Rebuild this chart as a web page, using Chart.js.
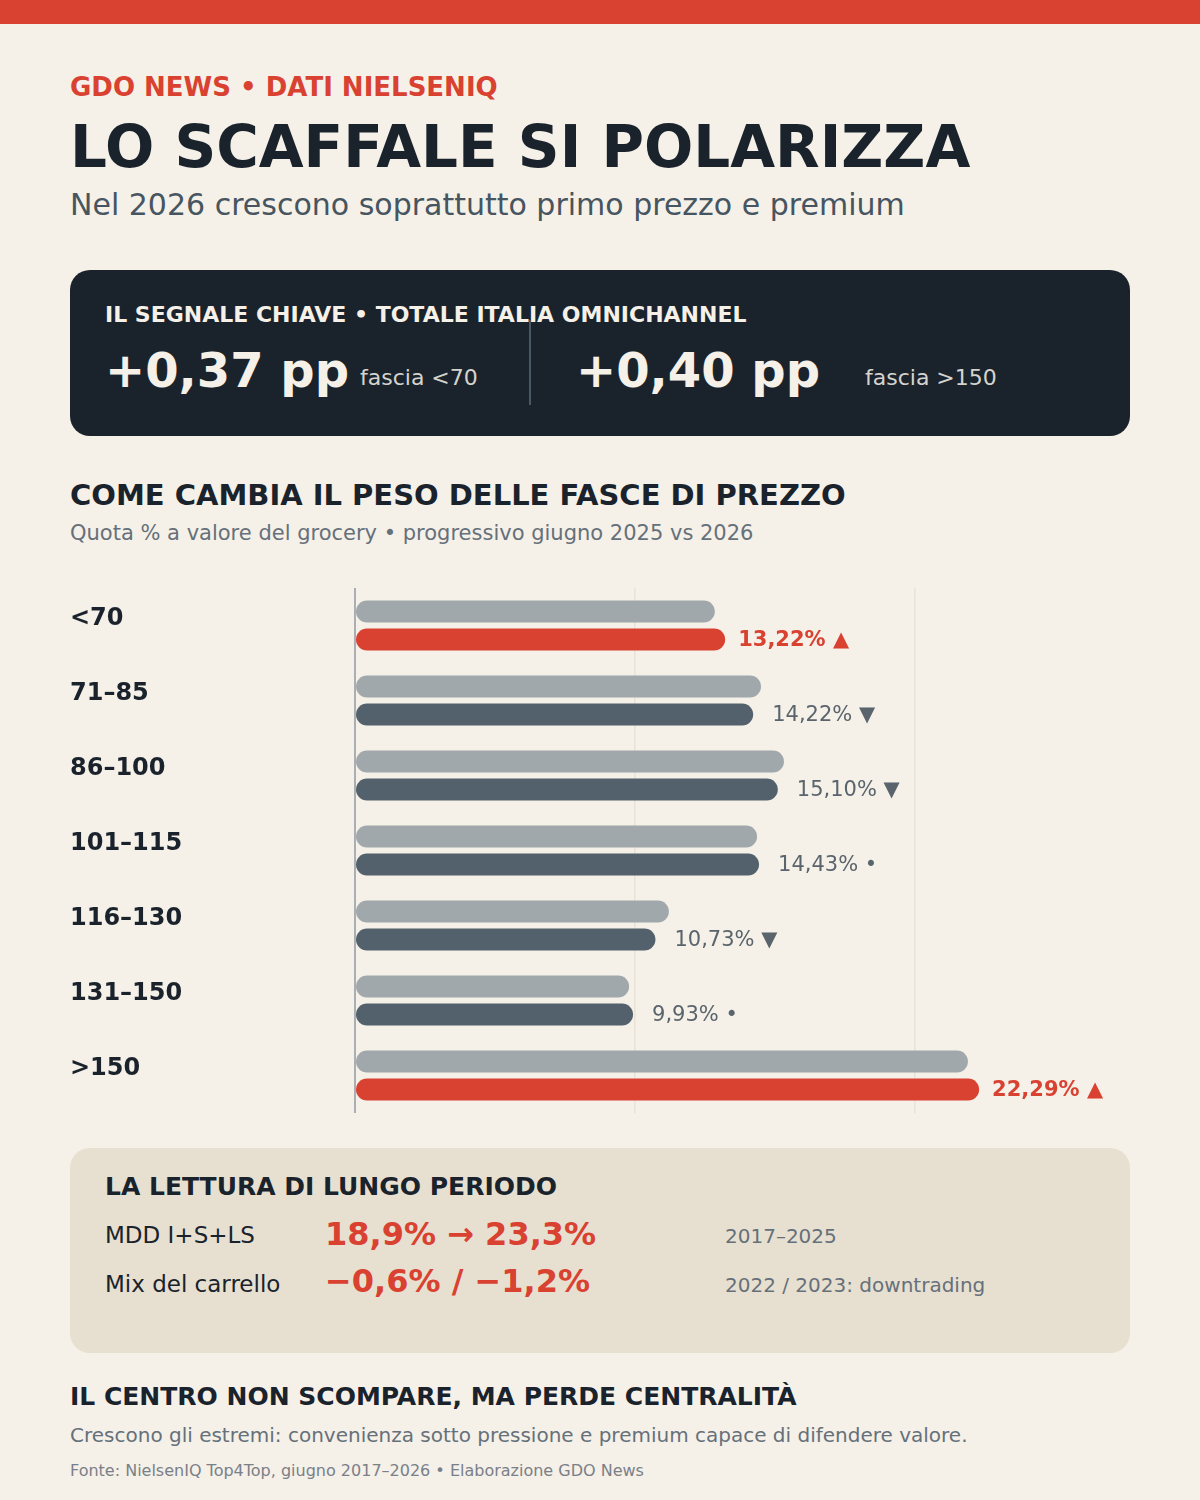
<!DOCTYPE html>
<html lang="it">
<head>
<meta charset="utf-8">
<title>Lo scaffale si polarizza</title>
<script src="https://cdn.jsdelivr.net/npm/chart.js@4.4.1/dist/chart.umd.min.js"></script>
<style>
  html, body { margin: 0; padding: 0; }
  body {
    width: 1200px; height: 1500px; position: relative; overflow: hidden;
    background: #F5F0E8; font-family: "DejaVu Sans", sans-serif; color: #1A232C;
  }
  .abs { position: absolute; line-height: 1; white-space: nowrap; }
  .topbar { position: absolute; left: 0; top: 0; width: 1200px; height: 24px; background: #D94130; }
  .kicker { left: 70px; top: 74px; font-size: 26px; font-weight: bold; color: #D94130; }
  .title { left: 70px; top: 118px; font-size: 58px; font-weight: bold; color: #1A232C; }
  .subtitle { left: 70px; top: 190px; font-size: 30px; color: #465560; }
  .panel { position: absolute; left: 70px; top: 270px; width: 1060px; height: 166px; background: #1A232C; border-radius: 20px; }
  .panel-head { left: 105px; top: 304px; font-size: 22px; font-weight: bold; color: #F5F0E8; }
  .big { top: 346px; font-size: 48px; font-weight: bold; color: #F5F0E8; }
  .fascia { top: 367px; font-size: 22px; color: #D5D3CE; }
  .divider { position: absolute; left: 529px; top: 320px; width: 2px; height: 85px; background: #4A5866; }
  .sec-head { left: 70px; top: 481px; font-size: 29px; font-weight: bold; }
  .sec-sub { left: 70px; top: 523px; font-size: 21px; color: #66707A; }
  #chartWrap { position: absolute; left: 70px; top: 578px; width: 1060px; height: 545px; }
  .box { position: absolute; left: 70px; top: 1148px; width: 1060px; height: 205px; background: #E7E0D1; border-radius: 20px; }
  .box-head { left: 105px; top: 1174px; font-size: 25px; font-weight: bold; }
  .lbl { left: 105px; font-size: 23px; color: #1A232C; }
  .val { left: 325px; font-size: 32px; font-weight: bold; color: #D94130; }
  .note { left: 725px; font-size: 20px; color: #66707A; }
  .foot-head { left: 70px; top: 1384px; font-size: 25px; font-weight: bold; }
  .foot-sub { left: 70px; top: 1425px; font-size: 20px; color: #66707A; }
  .source { left: 70px; top: 1463px; font-size: 16px; color: #7A8088; }
</style>
</head>
<body>
<div class="topbar"></div>
<div class="abs kicker">GDO NEWS • DATI NIELSENIQ</div>
<div class="abs title">LO SCAFFALE SI POLARIZZA</div>
<div class="abs subtitle">Nel 2026 crescono soprattutto primo prezzo e premium</div>

<div class="panel"></div>
<div class="abs panel-head">IL SEGNALE CHIAVE • TOTALE ITALIA OMNICHANNEL</div>
<div class="abs big" style="left:105px">+0,37 pp</div>
<div class="abs fascia" style="left:360px">fascia &lt;70</div>
<div class="divider"></div>
<div class="abs big" style="left:576px">+0,40 pp</div>
<div class="abs fascia" style="left:865px">fascia &gt;150</div>

<div class="abs sec-head">COME CAMBIA IL PESO DELLE FASCE DI PREZZO</div>
<div class="abs sec-sub">Quota % a valore del grocery • progressivo giugno 2025 vs 2026</div>

<div id="chartWrap"><canvas id="fasceChart" width="1060" height="545"></canvas></div>

<div class="box"></div>
<div class="abs box-head">LA LETTURA DI LUNGO PERIODO</div>
<div class="abs lbl" style="top:1224px">MDD I+S+LS</div>
<div class="abs val" style="top:1218px">18,9% → 23,3%</div>
<div class="abs note" style="top:1226px">2017–2025</div>
<div class="abs lbl" style="top:1273px">Mix del carrello</div>
<div class="abs val" style="top:1265px">−0,6% / −1,2%</div>
<div class="abs note" style="top:1275px">2022 / 2023: downtrading</div>

<div class="abs foot-head">IL CENTRO NON SCOMPARE, MA PERDE CENTRALITÀ</div>
<div class="abs foot-sub">Crescono gli estremi: convenienza sotto pressione e premium capace di difendere valore.</div>
<div class="abs source">Fonte: NielsenIQ Top4Top, giugno 2017–2026 • Elaborazione GDO News</div>

<script>
// fasce di prezzo e quote a valore (giugno 2025 vs giugno 2026)
const fasce = ['<70', '71–85', '86–100', '101–115', '116–130', '131–150', '>150'];
const quota2025 = [12.85, 14.50, 15.32, 14.36, 11.21, 9.79, 21.89];
const quota2026 = [13.22, 14.22, 15.10, 14.43, 10.73, 9.93, 22.29];
const trend = ['up', 'down', 'down', 'flat', 'down', 'flat', 'up'];
const xGrid = [10, 20];

const RED = '#D94130';
const SLATE = '#52616B';
const GREY = '#A0A8AB';

const trendMark = { up: '▲', down: '▼', flat: '•' };

// etichette delle fasce a sinistra
const categoryLabels = {
    id: 'categoryLabels',
    afterDraw(chart) {
        const ctx = chart.ctx;
        const yScale = chart.scales.y;
        ctx.save();
        ctx.font = 'bold 24px "DejaVu Sans"';
        ctx.fillStyle = '#1A232C';
        ctx.textAlign = 'left';
        ctx.textBaseline = 'middle';
        fasce.forEach((f, i) => {
            ctx.fillText(f, 0, yScale.getPixelForValue(i) - 7);
        });
        ctx.restore();
    }
};

// valore 2026 alla fine della barra
const valueLabels = {
    id: 'valueLabels',
    afterDatasetsDraw(chart) {
        const ctx = chart.ctx;
        const meta = chart.getDatasetMeta(1);
        ctx.save();
        ctx.textAlign = 'left';
        ctx.textBaseline = 'middle';
        meta.data.forEach((bar, i) => {
            const up = trend[i] === 'up';
            ctx.font = (up ? 'bold ' : '') + '21px "DejaVu Sans"';
            ctx.fillStyle = up ? RED : '#5A646C';
            const txt = quota2026[i].toFixed(2).replace('.', ',') + '% ' + trendMark[trend[i]];
            ctx.fillText(txt, bar.x + (up ? 13 : 19), bar.y + 1);
        });
        ctx.restore();
    }
};

document.addEventListener('DOMContentLoaded', function() {
    const ctx = document.getElementById('fasceChart');

    new Chart(ctx, {
        type: 'bar',
        data: {
            labels: fasce,
            datasets: [
                {
                    label: '2025',
                    data: quota2025,
                    backgroundColor: GREY,
                    borderRadius: 11,
                    borderSkipped: false
                },
                {
                    label: '2026',
                    data: quota2026,
                    backgroundColor: trend.map(t => t === 'up' ? RED : SLATE),
                    borderRadius: 11,
                    borderSkipped: false
                }
            ]
        },
        options: {
            indexAxis: 'y',
            responsive: false,
            animation: false,
            devicePixelRatio: 1,
            layout: { padding: { left: 285, right: 19, top: 10, bottom: 10 } },
            datasets: {
                bar: { categoryPercentage: 56 / 75, barPercentage: 22 / 28 }
            },
            plugins: {
                legend: { display: false },
                tooltip: { enabled: false }
            },
            scales: {
                x: {
                    min: 0,
                    max: 27,
                    ticks: { display: false, stepSize: 10 },
                    border: { display: false },
                    grid: {
                        drawTicks: false,
                        lineWidth: c => c.tick && c.tick.value === 0 ? 2 : 1.5,
                        color: c => {
                            if (!c.tick) return 'transparent';
                            if (c.tick.value === 0) return '#A9AFB2';
                            return xGrid.includes(c.tick.value) ? '#E9E3D7' : 'transparent';
                        }
                    },
                    afterFit: s => { s.height = 0; }
                },
                y: {
                    display: false
                }
            }
        },
        plugins: [categoryLabels, valueLabels]
    });
});
</script>
</body>
</html>
